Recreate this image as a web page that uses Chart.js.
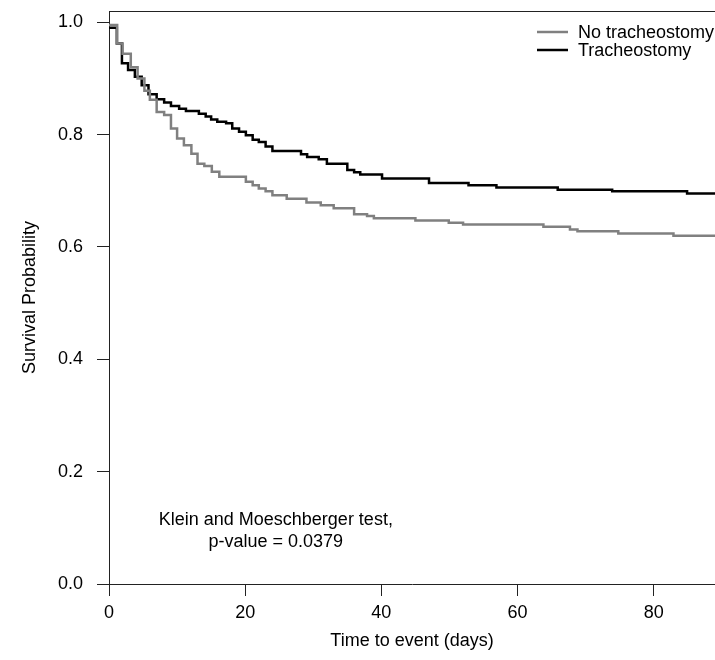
<!DOCTYPE html>
<html>
<head>
<meta charset="utf-8">
<script src="https://cdn.jsdelivr.net/npm/chart.js@4/dist/chart.umd.min.js"></script>
<style>
  html, body { margin: 0; padding: 0; background: #fff; }
  #wrap { width: 715px; height: 660px; }
</style>
</head>
<body>
<div id="wrap"><canvas id="c" width="715" height="660"></canvas></div>
<script>
// ---- data ----
const seriesLabels = ["No tracheostomy", "Tracheostomy"];

const noTrachTime = [0, 1.2, 2.0, 3.2, 4.2, 5.2, 6.0, 7.0, 8.1, 9.1, 10.0, 11.0, 12.1, 13.0, 14.0, 15.1, 16.2, 20.1, 21.1, 22.0, 23.0, 24.0, 26.1, 29.0, 31.1, 33.0, 36.0, 37.9, 38.9, 45.0, 49.9, 52.0, 63.8, 67.7, 68.8, 74.8, 82.9, 89];
const noTrachSurv = [0.995, 0.962, 0.944, 0.920, 0.900, 0.878, 0.862, 0.840, 0.835, 0.811, 0.793, 0.781, 0.766, 0.748, 0.744, 0.734, 0.725, 0.716, 0.710, 0.704, 0.699, 0.692, 0.686, 0.679, 0.674, 0.669, 0.658, 0.655, 0.651, 0.647, 0.643, 0.640, 0.636, 0.631, 0.628, 0.624, 0.620, 0.620];

const trachTime = [0, 1.15, 1.9, 2.8, 3.8, 4.8, 5.8, 7.0, 8.1, 9.1, 10.3, 11.3, 13.2, 14.2, 15.0, 15.9, 17.2, 18.1, 19.1, 20.1, 21.1, 22.0, 23.0, 24.0, 28.2, 29.1, 30.8, 32.0, 35.0, 36.0, 36.9, 40.1, 47.0, 52.8, 56.9, 65.9, 73.9, 84.9, 89];
const trachSurv = [0.990, 0.962, 0.927, 0.915, 0.903, 0.888, 0.872, 0.863, 0.857, 0.851, 0.846, 0.842, 0.837, 0.832, 0.827, 0.823, 0.820, 0.811, 0.805, 0.799, 0.791, 0.787, 0.779, 0.771, 0.765, 0.760, 0.756, 0.748, 0.737, 0.733, 0.729, 0.722, 0.714, 0.710, 0.706, 0.702, 0.699, 0.695, 0.695];

const xTicks = [0, 20, 40, 60, 80];
const yTicks = [0.0, 0.2, 0.4, 0.6, 0.8, 1.0];
const xTitle = "Time to event (days)";
const yTitle = "Survival Probability";
const annotationLines = ["Klein and Moeschberger test,", "p-value = 0.0379"];

// ---- chart ----
const FONT = "'Liberation Sans', Arial, Helvetica, sans-serif";
const FS = 18;
const AXIS_COLOR = '#222';

function toPoints(t, s) { return t.map((v, i) => ({ x: v, y: s[i] })); }

const extras = {
  id: 'extras',
  afterDraw(chart) {
    const { ctx, chartArea, scales } = chart;
    ctx.save();
    // top border of the box
    ctx.strokeStyle = AXIS_COLOR;
    ctx.lineWidth = 1;
    ctx.beginPath();
    ctx.moveTo(chartArea.left, chartArea.top + 0.5);
    ctx.lineTo(chartArea.right, chartArea.top + 0.5);
    ctx.stroke();

    // legend (top right, inside plot)
    ctx.font = FS + 'px ' + FONT;
    ctx.textBaseline = 'middle';
    ctx.textAlign = 'left';
    const lx0 = 537, lx1 = 568, tx = 578;
    const rows = [32, 50];
    chart.data.datasets.forEach((ds, i) => {
      ctx.strokeStyle = ds.borderColor;
      ctx.lineWidth = ds.borderWidth;
      ctx.beginPath();
      ctx.moveTo(lx0, rows[i]);
      ctx.lineTo(lx1, rows[i]);
      ctx.stroke();
      ctx.fillStyle = '#000';
      ctx.fillText(ds.label, tx, rows[i] + 1);
    });

    // annotation text, placed in data coordinates
    ctx.textAlign = 'center';
    const ax = scales.x.getPixelForValue(24.5);
    const ays = [0.114, 0.075];
    annotationLines.forEach((line, i) => {
      ctx.fillText(line, ax, scales.y.getPixelForValue(ays[i]));
    });
    ctx.restore();
  }
};

new Chart(document.getElementById('c'), {
  type: 'line',
  data: {
    datasets: [
      {
        label: seriesLabels[0],
        data: toPoints(noTrachTime, noTrachSurv),
        borderColor: '#808080',
        borderWidth: 2.5,
        stepped: 'before',
        pointRadius: 0,
        fill: false
      },
      {
        label: seriesLabels[1],
        data: toPoints(trachTime, trachSurv),
        borderColor: '#000000',
        borderWidth: 2.5,
        stepped: 'before',
        pointRadius: 0,
        fill: false
      }
    ]
  },
  options: {
    responsive: false,
    animation: false,
    devicePixelRatio: 1,
    layout: { padding: { top: 11, right: 0, left: 0, bottom: 0 } },
    plugins: {
      legend: { display: false },
      tooltip: { enabled: false }
    },
    scales: {
      x: {
        type: 'linear',
        min: 0,
        max: 89,
        afterBuildTicks: s => { s.ticks = xTicks.map(v => ({ value: v })); },
        afterFit: s => { s.height = 76; s.paddingLeft = 0; s.paddingRight = 0; },
        ticks: {
          font: { family: FONT, size: FS },
          color: '#000',
          padding: 6,
          maxRotation: 0,
          callback: v => String(v)
        },
        grid: {
          display: true,
          drawOnChartArea: false,
          drawTicks: true,
          tickLength: 12,
          color: AXIS_COLOR,
          lineWidth: 1
        },
        border: { display: true, color: AXIS_COLOR, width: 1 },
        title: {
          display: true,
          text: xTitle,
          font: { family: FONT, size: FS },
          color: '#000',
          padding: { top: 0, bottom: 8 }
        }
      },
      y: {
        type: 'linear',
        min: 0,
        max: 1.02,
        afterBuildTicks: s => { s.ticks = yTicks.map(v => ({ value: v })); },
        afterFit: s => { s.width = 109; s.paddingTop = 0; s.paddingBottom = 0; },
        ticks: {
          font: { family: FONT, size: FS },
          color: '#000',
          padding: 14,
          callback: v => Number(v).toFixed(1)
        },
        grid: {
          display: true,
          drawOnChartArea: false,
          drawTicks: true,
          tickLength: 12,
          color: AXIS_COLOR,
          lineWidth: 1
        },
        border: { display: true, color: AXIS_COLOR, width: 1 },
        title: {
          display: true,
          text: yTitle,
          font: { family: FONT, size: FS },
          color: '#000',
          padding: { top: 19, bottom: 0 }
        }
      }
    }
  },
  plugins: [extras]
});
</script>
</body>
</html>
